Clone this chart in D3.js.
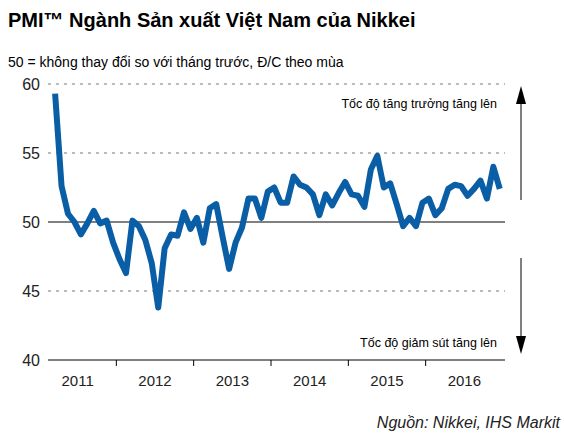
<!DOCTYPE html>
<html><head><meta charset="utf-8">
<script src="https://cdn.jsdelivr.net/npm/d3@7"></script>
<style>body{margin:0;background:#fff}text{font-family:Arial,"Liberation Sans",sans-serif}</style>
</head><body><div class="chart"></div>
<script>
const years = ['2011', '2012', '2013', '2014', '2015', '2016']
const yTicks = [40, 45, 50, 55, 60]
// monthly PMI, Mar 2011 .. Dec 2016
const pmi = [59.3, 52.6, 50.6, 50.0, 49.1, 49.9, 50.8, 49.9, 50.1, 48.5,
    47.3, 46.3, 50.1, 49.7, 48.7, 47.0, 43.8, 48.1, 49.1, 49.0, 50.7, 49.5,
    50.3, 48.5, 51.0, 51.3, 48.9, 46.6, 48.5, 49.6, 51.7, 51.7, 50.3, 52.2,
    52.5, 51.4, 51.4, 53.3, 52.7, 52.5, 52.0, 50.5, 52.0, 51.2, 52.1, 52.9,
    52.0, 51.9, 51.1, 53.8, 54.8, 52.5, 52.8, 51.3, 49.7, 50.3, 49.7, 51.4,
    51.7, 50.5, 51.0, 52.4, 52.7, 52.6, 51.9, 52.4, 53.0, 51.7, 54.0, 52.4]
const firstMonth = 2

const svg = d3.select('.chart').append('svg').attr('width', 564).attr('height', 440)
const x = d3.scaleLinear().domain([0, 72]).range([39, 503])
const y = d3.scaleLinear().domain([40, 60]).range([360, 84])

svg.append('text').attr('x', 8).attr('y', 27).attr('font-size', 20).attr('font-weight', 'bold')
    .text('PMI™ Ngành Sản xuất Việt Nam của Nikkei')
svg.append('text').attr('x', 8).attr('y', 67).attr('font-size', 14)
    .text('50 = không thay đổi so với tháng trước, Đ/C theo mùa')

// grid
yTicks.filter(v => v != 50 && v != 40).forEach(v => {
    svg.append('line').attr('x1', 48).attr('x2', 505).attr('y1', y(v)).attr('y2', y(v))
        .attr('stroke', '#777').attr('stroke-dasharray', '3,5')
})
svg.append('line').attr('x1', 48).attr('x2', 505).attr('y1', y(50)).attr('y2', y(50)).attr('stroke', '#000')
svg.append('line').attr('x1', 48).attr('x2', 505).attr('y1', y(40)).attr('y2', y(40)).attr('stroke', '#000')

svg.selectAll('.yt').data(yTicks).enter().append('text')
    .attr('x', 40).attr('y', d => y(d) + 6).attr('text-anchor', 'end').attr('font-size', 16).attr('fill', '#222')
    .text(d => d)

// year ticks & labels
d3.range(1, 6).forEach(k => {
    svg.append('line').attr('x1', x(k * 12)).attr('x2', x(k * 12)).attr('y1', 360).attr('y2', 366).attr('stroke', '#000')
})
svg.selectAll('.yr').data(years).enter().append('text')
    .attr('x', (d, i) => x(i * 12 + 6)).attr('y', 386).attr('text-anchor', 'middle').attr('font-size', 15).attr('fill', '#222')
    .text(d => d)

const line = d3.line().x((d, i) => x(firstMonth + i + 0.5)).y(d => y(d))
svg.append('path').attr('d', line(pmi)).attr('fill', 'none').attr('stroke', '#0a5ea6')
    .attr('stroke-width', 6).attr('stroke-linejoin', 'round')

svg.append('text').attr('x', 497).attr('y', 108).attr('text-anchor', 'end').attr('font-size', 12.5).text('Tốc độ tăng trưởng tăng lên')
svg.append('text').attr('x', 497).attr('y', 347).attr('text-anchor', 'end').attr('font-size', 12.5).text('Tốc độ giảm sút tăng lên')

// arrows
svg.append('line').attr('x1', 521).attr('x2', 521).attr('y1', 100).attr('y2', 200).attr('stroke', '#000')
svg.append('path').attr('d', 'M521 86 L516 104 L526 104 Z')
svg.append('line').attr('x1', 521).attr('x2', 521).attr('y1', 258).attr('y2', 340).attr('stroke', '#000')
svg.append('path').attr('d', 'M521 354 L516 336 L526 336 Z')

svg.append('text').attr('x', 560).attr('y', 428).attr('text-anchor', 'end').attr('font-size', 16)
    .attr('font-style', 'italic').attr('fill', '#222').text('Nguồn: Nikkei, IHS Markit')
</script></body></html>
